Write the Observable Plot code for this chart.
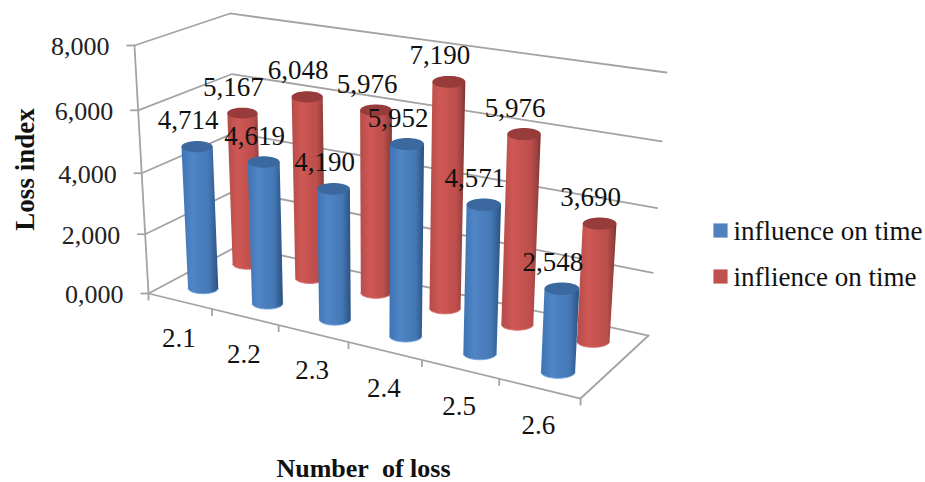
<!DOCTYPE html>
<html>
<head>
<meta charset="utf-8">
<script src="https://cdn.jsdelivr.net/npm/d3@7"></script>
<script src="https://cdn.jsdelivr.net/npm/@observablehq/plot@0.6"></script>
<style>
  html, body { margin: 0; background: #fff; }
  svg { display: block; }
</style>
</head>
<body>
<div id="chart"></div>
<script>
const categories = ["2.1", "2.2", "2.3", "2.4", "2.5", "2.6"];
const influenceValues = [4.714, 4.619, 4.190, 5.952, 4.571, 2.548];
const inflienceValues = [5.167, 6.048, 5.976, 7.190, 5.976, 3.690];
const valueTicks = [0, 2, 4, 6, 8];
const formatValue = d => d3.format(".3f")(d).replace(".", ",");

const SERIF = "'Liberation Serif', 'Times New Roman', serif";
const GRID = "#a3a3a3";

// Unit-cube coordinates: u along categories, v into the depth, w up the value axis.
const uScale = d3.scaleBand().domain(categories).range([0, 1]);
const wScale = d3.scaleLinear().domain([0, 8]).range([0, 1]);
const uCenter = c => uScale(c) + uScale.bandwidth() / 2;

// Perspective camera for the box.
function project(u, v, w) {
  const d = 1 - 0.138 * u + 0.075 * v - 0.058 * w;
  return {
    x: (148 + 352 * u + 107.2 * v - 21.8 * w) / d,
    y: (293 + 50.1 * u - 29.2 * v - 250.6 * w) / d,
    d
  };
}

const RADIUS = 15.2;
const SQUASH = 0.36;

function capOutline(u, v, w, id) {
  const c = project(u, v, w);
  const rx = RADIUS / c.d, ry = rx * SQUASH;
  return d3.range(0, 49).map(i => {
    const t = (i / 48) * 2 * Math.PI;
    return {id, x: c.x + rx * Math.cos(t), y: c.y + ry * Math.sin(t)};
  });
}

function baseArc(u, v, id) {
  const base = project(u, v, 0);
  const rb = RADIUS / base.d;
  return d3.range(0, 33).map(i => {
    const t = (i / 32) * Math.PI;
    return {id, x: base.x + rb * Math.cos(t), y: base.y + rb * SQUASH * Math.sin(t)};
  });
}

function bodyOutline(u, v, w, id) {
  const top = project(u, v, w);
  const rt = RADIUS / top.d;
  return [{id, x: top.x - rt, y: top.y}, {id, x: top.x + rt, y: top.y}, ...baseArc(u, v, id)];
}

const rows = (values, v) => values.map((value, i) => ({category: categories[i], value, u: uCenter(categories[i]), v, w: wScale(value)}));
const frontRow = rows(influenceValues, 0.25);
const backRow = rows(inflienceValues, 0.75);

const bodies = row => row.flatMap(d => bodyOutline(d.u, d.v, d.w, d.category));
const caps = row => row.flatMap(d => capOutline(d.u, d.v, d.w, d.category));
const rims = row => row.flatMap(d => baseArc(d.u, d.v, d.category));
const labels = [...backRow, ...frontRow].map(d => ({...project(d.u, d.v, d.w), text: formatValue(d.value)}));

// Walls and floor of the box.
const gridPaths = [
  ...valueTicks.map(t => {
    const w = wScale(t);
    return [project(0, 0, w), project(0, 1, w), project(1, 1, w)].map(p => ({...p, id: "g" + t}));
  }),
  [project(0, 0, 0), project(1, 0, 0), project(1, 1, 0)].map(p => ({...p, id: "floor"})),
  [project(0, 0, 0), project(0, 0, 1)].map(p => ({...p, id: "axis"}))
].flat();

const uTicks = d3.range(0, 7).map(i => project(i / 6, 0, 0));
const vTicks = valueTicks.map(t => ({...project(0, 0, wScale(t)), t}));

function gradient(id, stops) {
  return () => {
    const svgNS = "http://www.w3.org/2000/svg";
    const defs = document.createElementNS(svgNS, "defs");
    const g = document.createElementNS(svgNS, "linearGradient");
    g.setAttribute("id", id);
    g.setAttribute("x1", "0"); g.setAttribute("x2", "1");
    g.setAttribute("y1", "0"); g.setAttribute("y2", "0");
    for (const [offset, color] of stops) {
      const s = document.createElementNS(svgNS, "stop");
      s.setAttribute("offset", offset);
      s.setAttribute("stop-color", color);
      g.appendChild(s);
    }
    defs.appendChild(g);
    return defs;
  };
}

const chart = Plot.plot({
  width: 925,
  height: 482,
  margin: 0,
  x: {domain: [0, 925], range: [0, 925], axis: null},
  y: {domain: [0, 482], range: [0, 482], axis: null},
  marks: [
    gradient("blueBody", [[0, "#3f74b4"], [0.3, "#5085c6"], [0.75, "#4478b5"], [0.92, "#335d91"], [1, "#2b4f7c"]]),
    gradient("redBody", [[0, "#b54c49"], [0.3, "#cf5855"], [0.75, "#bc4e4b"], [0.92, "#96403d"], [1, "#7c2f2d"]]),

    // box
    Plot.line(gridPaths, {x: "x", y: "y", z: "id", stroke: GRID, strokeWidth: 1.8}),
    Plot.link(uTicks, {x1: "x", y1: "y", x2: "x", y2: d => d.y + 7, stroke: GRID, strokeWidth: 1.8}),
    Plot.link(vTicks, {x1: d => d.x - 8, y1: "y", x2: "x", y2: "y", stroke: GRID, strokeWidth: 1.8}),

    // cylinders, back row first
    Plot.line(bodies(backRow), {x: "x", y: "y", z: "id", fill: "url(#redBody)", stroke: "none"}),
    Plot.line(rims(backRow), {x: "x", y: "y", z: "id", stroke: "#d97673", strokeWidth: 1}),
    Plot.line(caps(backRow), {x: "x", y: "y", z: "id", fill: "#973c3b", stroke: "none"}),
    Plot.line(bodies(frontRow), {x: "x", y: "y", z: "id", fill: "url(#blueBody)", stroke: "none"}),
    Plot.line(rims(frontRow), {x: "x", y: "y", z: "id", stroke: "#74a5e0", strokeWidth: 1}),
    Plot.line(caps(frontRow), {x: "x", y: "y", z: "id", fill: "#3b689e", stroke: "none"}),

    // value labels
    Plot.text(labels, {x: "x", y: "y", text: "text", dx: -9, dy: -26, fontSize: 27, fontFamily: SERIF, fill: "#111"}),

    // value axis labels
    Plot.text(vTicks, {x: "x", y: "y", text: d => formatValue(d.t), dx: -25, dy: 1, textAnchor: "end", fontSize: 26, fontFamily: SERIF, fill: "#222"}),

    // category labels
    Plot.text(categories, {
      x: c => project(uCenter(c), 0, 0).x,
      y: c => project(uCenter(c), 0, 0).y,
      text: c => c, dx: -1, dy: 37, fontSize: 27, fontFamily: SERIF, fill: "#111"
    }),

    // axis titles
    Plot.text(["Loss index"], {x: 25, y: 169, text: d => d, rotate: -90, fontSize: 27, fontWeight: "bold", fontFamily: SERIF, fill: "#111"}),
    Plot.text(["Number\u2002of loss"], {x: 363, y: 468, text: d => d, fontSize: 26, fontWeight: "bold", fontFamily: SERIF, fill: "#111"}),

    // legend
    Plot.dot(["#4f81bd", "#c0504d"], {x: 720, y: (d, i) => 230 + i * 46, symbol: "square", r: 8, fill: d => d, stroke: "none"}),
    Plot.text(["influence on time", "inflience on time"], {x: 733, y: (d, i) => 231 + i * 46, text: d => d, textAnchor: "start", fontSize: 27, fontFamily: SERIF, fill: "#111"})
  ]
});
document.getElementById("chart").appendChild(chart);
</script>
</body>
</html>
